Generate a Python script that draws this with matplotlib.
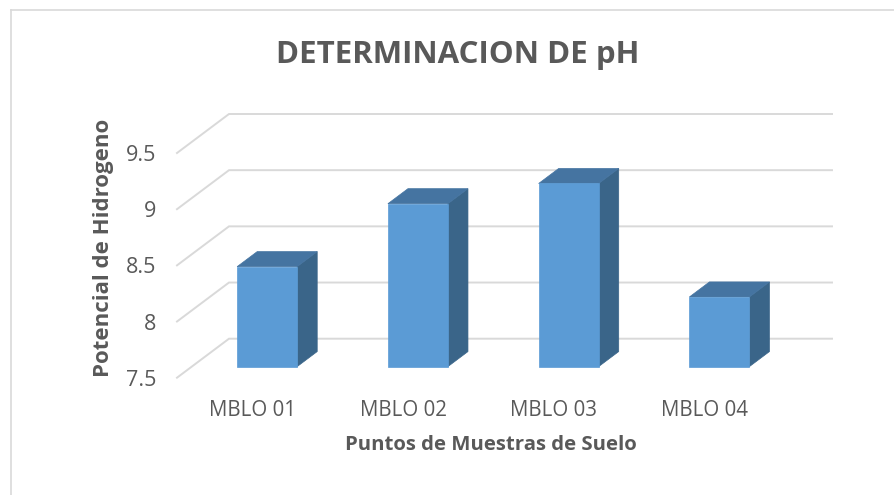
import numpy as np
import matplotlib
matplotlib.use("Agg")
import matplotlib.pyplot as plt
from matplotlib.patches import Polygon
from matplotlib.lines import Line2D
from matplotlib.transforms import IdentityTransform

# ---- data ----
categories = ["MBLO 01", "MBLO 02", "MBLO 03", "MBLO 04"]
ph_values = [8.39, 8.95, 9.13, 8.12]
y_ticks = [7.5, 8, 8.5, 9, 9.5]
y_tick_labels = ["7.5", "8", "8.5", "9", "9.5"]
title = "DETERMINACION DE pH"
x_label = "Puntos de Muestras de Suelo"
y_label = "Potencial de Hidrogeno"

# ---- style ----
plt.rcParams['font.family'] = ['Open Sans', 'DejaVu Sans']
TXT = "#595959"
GRID = "#D9D9D9"
FRONT = "#5B9BD5"
TOP = "#4574A1"
SIDE = "#3A6589"

fig = plt.figure(figsize=(8.95, 4.95), dpi=100)
fig.patch.set_facecolor("white")

ax = fig.add_axes([177/895, 117.3/495, 603/895, 224.7/495])
ax.set_xlim(-0.5, len(categories) - 0.5)
ax.set_ylim(y_ticks[0], y_ticks[-1])
ax.patch.set_visible(False)
for s in ax.spines.values():
    s.set_visible(False)

ax.set_yticks(y_ticks)
ax.set_yticklabels(y_tick_labels)
ax.set_xticks(range(len(categories)))
ax.set_xticklabels(categories)
ax.tick_params(axis='y', length=0, pad=15, labelsize=15.5, labelcolor=TXT)
ax.tick_params(axis='x', length=0, pad=16, labelsize=14.8, labelcolor=TXT)

# depth vector (full depth) in pixels
DX = 0.52 * fig.dpi
DY = 0.39 * fig.dpi
t_front, t_back = 0.284, 0.67
bar_w = 0.398

def P(x, y, d):
    p = ax.transData.transform((x, y))
    return (p[0] + d * DX, p[1] + d * DY)

idt = IdentityTransform()
x0, x1 = ax.get_xlim()
for v in y_ticks:
    a = P(x0, v, 0); b = P(x0, v, 1); c = P(x1, v, 1)
    ax.add_line(Line2D([a[0], b[0], c[0]], [a[1], b[1], c[1]], color=GRID,
                       lw=1.4, transform=idt, clip_on=False, zorder=1,
                       solid_joinstyle='miter'))

base = y_ticks[0]
for i, v in enumerate(ph_values):
    l, r = i - bar_w/2, i + bar_w/2
    side = [P(r, base, t_front), P(r, base, t_back), P(r, v, t_back), P(r, v, t_front)]
    top = [P(l, v, t_front), P(r, v, t_front), P(r, v, t_back), P(l, v, t_back)]
    front = [P(l, base, t_front), P(r, base, t_front), P(r, v, t_front), P(l, v, t_front)]
    for pts, col in ((side, SIDE), (top, TOP), (front, FRONT)):
        ax.add_patch(Polygon(pts, closed=True, facecolor=col, edgecolor=col,
                             lw=0.5, transform=idt, clip_on=False, zorder=3))

fig.text(458/895, 1 - 55/495, title, ha='center', va='center', fontsize=22.5,
         fontweight='bold', color=TXT)
fig.text(491/895, 1 - 445/495, x_label, ha='center', va='center', fontsize=14.7,
         fontweight='bold', color=TXT)
fig.text(104/895, 1 - 248/495, y_label, ha='center', va='center', fontsize=16,
         fontweight='bold', color=TXT, rotation=90)

# chart border (top and left visible)
fig.add_artist(Line2D([11/895, 11/895], [0, 1 - 9.5/495], transform=fig.transFigure,
                      color=GRID, lw=1.2))
fig.add_artist(Line2D([11/895, 1], [1 - 9.5/495, 1 - 9.5/495], transform=fig.transFigure,
                      color=GRID, lw=1.2))

fig.savefig("out.png", dpi=100)
